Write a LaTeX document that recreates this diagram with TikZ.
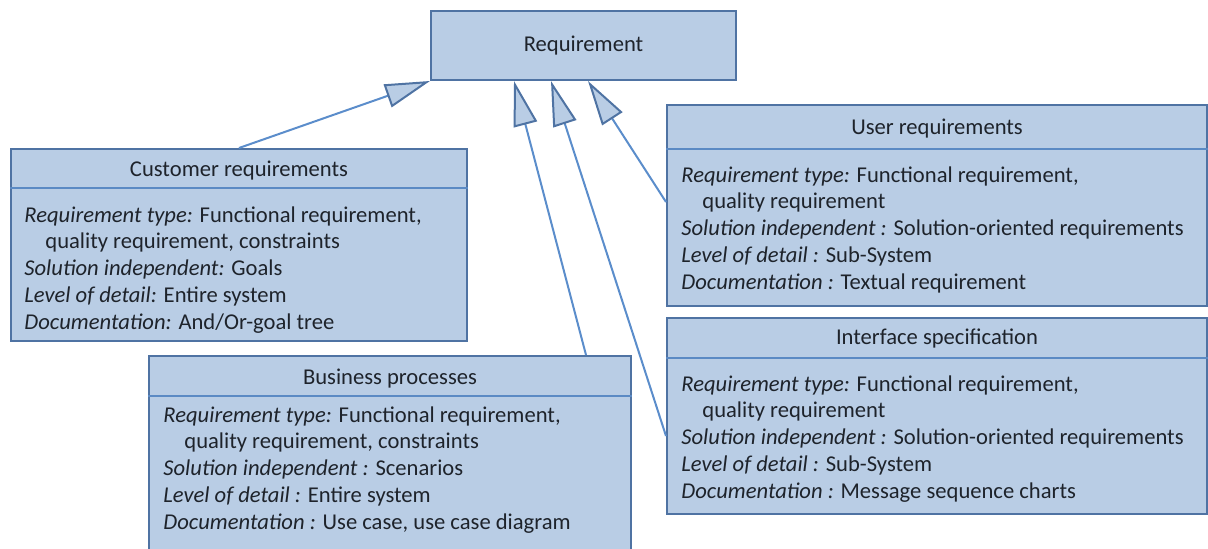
\documentclass[tikz,border=0pt]{standalone}
\usepackage{fontspec}
\setmainfont{Carlito}
\usetikzlibrary{arrows.meta,calc}
\definecolor{boxfill}{HTML}{B9CDE5}
\definecolor{boxdraw}{HTML}{4F73A3}
\definecolor{divline}{HTML}{5B8AC4}
\definecolor{conn}{HTML}{5B8DCB}
\definecolor{txt}{HTML}{1E232B}
\tikzset{
  umlbox/.style={draw=boxdraw, fill=boxfill, line width=1pt, rectangle, inner sep=0pt},
  divider/.style={draw=divline, line width=1pt},
  headtxt/.style={anchor=base, inner sep=0pt, text=txt, font=\fontsize{11.3}{13.4}\selectfont},
  bodytxt/.style={anchor=north west, inner sep=0pt, align=left, text=txt, font=\fontsize{11.3}{13.4}\selectfont},
  gen/.style={draw=conn, line width=1pt, -{Triangle[length=22.5pt, width=12pt, fill=boxfill, color=boxdraw, line width=1pt]}}
}
\newcommand{\ind}{\hspace*{10.5pt}}
\begin{document}
\begin{tikzpicture}[x=0.5pt, y=-0.5pt]
\useasboundingbox (0,0) rectangle (1208,549);

% Requirement
\node[umlbox, minimum width=152.5pt, minimum height=34.5pt] (req) at (583.5,45.5) {};
\node[headtxt] (reqt) at (583.5,52) {Requirement};

% Customer requirements
\node[umlbox, minimum width=228pt, minimum height=96pt] (cust) at (239,245) {};
\draw[divider] (cust.west |- 0,188) -- (cust.east |- 0,188);
\node[headtxt] (custh) at (239,177) {Customer requirements};
\node[bodytxt] (custb) at (24,203) {\strut\textit{Requirement type:} Functional requirement,\\
\ind quality requirement, constraints\\
\textit{Solution independent:} Goals\\
\textit{Level of detail:} Entire system\\
\textit{Documentation:} And/Or-goal tree};

% Business processes
\node[umlbox, minimum width=241pt, minimum height=99.5pt] (bus) at (390,455.5) {};
\draw[divider] (bus.west |- 0,396) -- (bus.east |- 0,396);
\node[headtxt] (bush) at (390,385) {Business processes};
\node[bodytxt] (busb) at (163,403) {\strut\textit{Requirement type:} Functional requirement,\\
\ind quality requirement, constraints\\
\textit{Solution independent :} Scenarios\\
\textit{Level of detail :} Entire system\\
\textit{Documentation :} Use case, use case diagram};

% User requirements
\node[umlbox, minimum width=270pt, minimum height=100.5pt] (user) at (937,205.5) {};
\draw[divider] (user.west |- 0,149) -- (user.east |- 0,149);
\node[headtxt] (userh) at (937,135) {User requirements};
\node[bodytxt] (userb) at (681,163) {\strut\textit{Requirement type:} Functional requirement,\\
\ind quality requirement\\
\textit{Solution independent :} Solution-oriented requirements\\
\textit{Level of detail :} Sub-System\\
\textit{Documentation :} Textual requirement};

% Interface specification
\node[umlbox, minimum width=270pt, minimum height=98pt] (intf) at (937,416) {};
\draw[divider] (intf.west |- 0,358) -- (intf.east |- 0,358);
\node[headtxt] (intfh) at (937,345) {Interface specification};
\node[bodytxt] (intfb) at (681,372) {\strut\textit{Requirement type:} Functional requirement,\\
\ind quality requirement\\
\textit{Solution independent :} Solution-oriented requirements\\
\textit{Level of detail :} Sub-System\\
\textit{Documentation :} Message sequence charts};

% Generalisation connectors
\draw[gen] (cust.north) -- (req.south west);
\draw[gen] ($(bus.north east)+(-46,0)$) -- ($(req.south west)+(84,0)$);
\draw[gen] ($(intf.north west)+(0,119)$) -- ($(req.south west)+(121,0)$);
\draw[gen] ($(user.north west)+(0,98)$) -- ($(req.south west)+(158,0)$);
\end{tikzpicture}
\end{document}
